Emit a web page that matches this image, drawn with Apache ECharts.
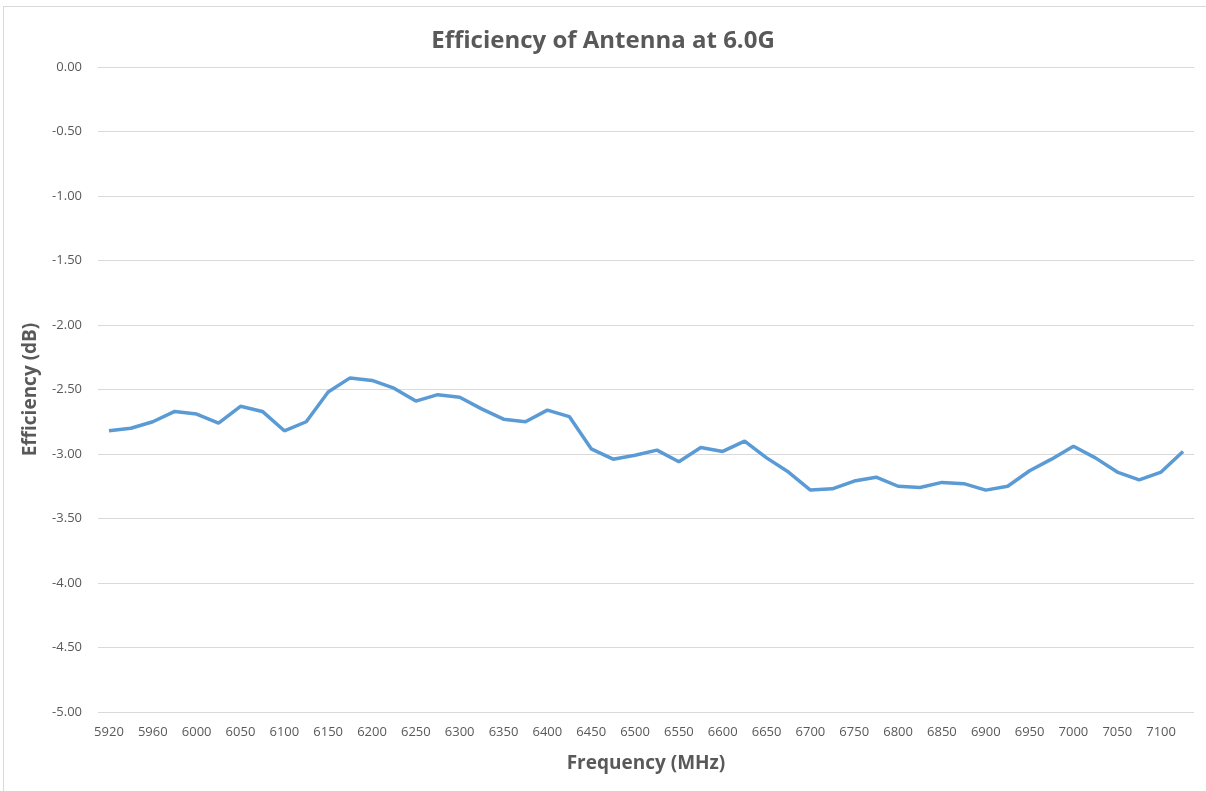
<!DOCTYPE html>
<html>
<head>
<meta charset="utf-8">
<script src="https://cdn.jsdelivr.net/npm/echarts@6/dist/echarts.min.js"></script>
<style>
  html, body { margin: 0; padding: 0; background: #fff; }
  #frame { position: absolute; left: 3px; top: 6px; width: 1220px; height: 800px; border: 1px solid #d9d9d9; box-sizing: border-box; }
  #chart { position: absolute; left: 0; top: 0; width: 1206px; height: 791px; }
</style>
</head>
<body>
<div id="frame"></div>
<div id="chart"></div>
<script>
// frequencies (MHz)
const freqs = [5920, 5940, 5960, 5980, 6000, 6025, 6050, 6075, 6100, 6125,
  6150, 6175, 6200, 6225, 6250, 6275, 6300, 6325, 6350, 6375,
  6400, 6425, 6450, 6475, 6500, 6525, 6550, 6575, 6600, 6625,
  6650, 6675, 6700, 6725, 6750, 6775, 6800, 6825, 6850, 6875,
  6900, 6925, 6950, 6975, 7000, 7025, 7050, 7075, 7100, 7125]
// efficiency (dB)
const efficiency = [-2.82, -2.80, -2.75, -2.67, -2.69, -2.76, -2.63, -2.67, -2.82, -2.75,
  -2.52, -2.41, -2.43, -2.49, -2.59, -2.54, -2.56, -2.65, -2.73, -2.75,
  -2.66, -2.71, -2.96, -3.04, -3.01, -2.97, -3.06, -2.95, -2.98, -2.90,
  -3.03, -3.14, -3.28, -3.27, -3.21, -3.18, -3.25, -3.26, -3.22, -3.23,
  -3.28, -3.25, -3.13, -3.04, -2.94, -3.03, -3.14, -3.20, -3.14, -2.98]

const chart = echarts.init(document.getElementById('chart'))
const font = '"Open Sans", "Liberation Sans", sans-serif'

chart.setOption({
  backgroundColor: 'transparent',
  animation: false,
  title: {
    text: 'Efficiency of Antenna at 6.0G',
    left: 'center',
    top: 24,
    textStyle: { color: '#595959', fontSize: 24, fontWeight: 'bold', fontFamily: font }
  },
  grid: { left: 98, right: 12, top: 67, bottom: 79 },
  xAxis: {
    type: 'category',
    data: freqs,
    boundaryGap: true,
    name: 'Frequency (MHz)',
    nameLocation: 'middle',
    nameGap: 42,
    nameTextStyle: { color: '#595959', fontSize: 19, fontWeight: 'bold', fontFamily: font },
    axisLine: { lineStyle: { color: '#d9d9d9', width: 1 } },
    axisTick: { show: false },
    axisLabel: { interval: 1, color: '#595959', fontSize: 13, margin: 14, fontFamily: font }
  },
  yAxis: {
    type: 'value',
    min: -5,
    max: 0,
    interval: 0.5,
    name: 'Efficiency (dB)',
    nameLocation: 'middle',
    nameGap: 58,
    nameTextStyle: { color: '#595959', fontSize: 19, fontWeight: 'bold', fontFamily: font },
    axisLine: { show: false },
    axisTick: { show: false },
    splitLine: { lineStyle: { color: '#d9d9d9', width: 1 } },
    axisLabel: {
      color: '#595959', fontSize: 13, margin: 16, fontFamily: font,
      formatter: v => v.toFixed(2)
    }
  },
  series: [{
    type: 'line',
    data: efficiency,
    showSymbol: false,
    lineStyle: { color: '#5b9bd5', width: 3.5 },
    itemStyle: { color: '#5b9bd5' }
  }]
})
</script>
</body>
</html>
